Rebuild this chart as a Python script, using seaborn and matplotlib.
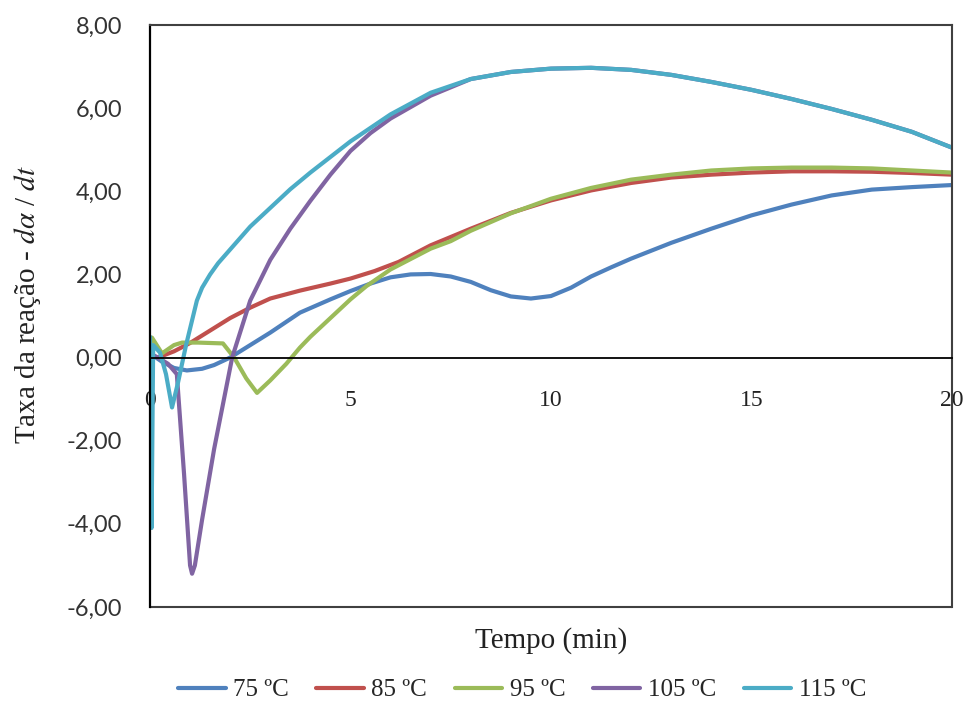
import pandas as pd
import matplotlib.pyplot as plt
import seaborn as sns
from matplotlib.ticker import FuncFormatter

# tempo (min) e taxa da reação
t75 = [0, 0.3, 0.6, 0.92, 1.3, 1.6, 2.0, 2.5, 3.0, 3.74, 4.5, 5.0, 5.5, 6.0, 6.5, 7.0, 7.5, 8.0, 8.5, 9.0, 9.5, 10.0, 10.5, 11, 11.5, 12, 13, 14, 15, 16, 17, 18, 19, 20]
v75 = [0.1, -0.1, -0.25, -0.31, -0.27, -0.18, 0.0, 0.3, 0.6, 1.08, 1.4, 1.6, 1.78, 1.93, 2.0, 2.01, 1.95, 1.82, 1.62, 1.47, 1.42, 1.48, 1.68, 1.95, 2.17, 2.38, 2.76, 3.1, 3.42, 3.68, 3.9, 4.04, 4.1, 4.15]

t85 = [0.2, 0.6, 1.0, 1.5, 2.0, 2.5, 3.0, 3.74, 4.5, 5.0, 5.6, 6.2, 7, 8, 9, 10, 11, 12, 13, 14, 15, 16, 17, 18, 19, 20]
v85 = [0.0, 0.15, 0.35, 0.65, 0.95, 1.2, 1.42, 1.61, 1.78, 1.9, 2.08, 2.3, 2.7, 3.1, 3.48, 3.78, 4.02, 4.2, 4.33, 4.4, 4.45, 4.48, 4.48, 4.47, 4.44, 4.4]

t95 = [0, 0.05, 0.3, 0.6, 0.8, 1.2, 1.82, 2.1, 2.4, 2.67, 3.0, 3.4, 3.74, 4.0, 4.5, 5.0, 5.4, 6, 7, 7.5, 8, 9, 10, 11, 12, 13, 14, 15, 16, 17, 18, 19, 20]
v95 = [0.3, 0.48, 0.1, 0.3, 0.36, 0.36, 0.34, 0.0, -0.5, -0.85, -0.55, -0.15, 0.24, 0.5, 0.95, 1.4, 1.72, 2.12, 2.62, 2.8, 3.05, 3.47, 3.82, 4.08, 4.28, 4.4, 4.5, 4.55, 4.57, 4.57, 4.55, 4.5, 4.45]

t105 = [0, 0.2, 0.45, 0.67, 0.85, 1.0, 1.05, 1.12, 1.3, 1.6, 2.05, 2.5, 3, 3.5, 4, 4.5, 5, 5.5, 6, 7, 8, 9, 10, 11, 12, 13, 14, 15, 16, 17, 18, 19, 20]
v105 = [0.1, 0.0, -0.15, -0.4, -2.8, -5.0, -5.2, -5.0, -3.9, -2.2, 0.0, 1.37, 2.35, 3.1, 3.77, 4.4, 4.97, 5.4, 5.75, 6.3, 6.7, 6.87, 6.95, 6.97, 6.92, 6.8, 6.63, 6.44, 6.22, 5.98, 5.72, 5.43, 5.05]

t115 = [0, 0.04, 0.08, 0.25, 0.4, 0.55, 0.7, 0.9, 1.17, 1.3, 1.5, 1.7, 2, 2.5, 3, 3.5, 4, 5, 6, 7, 8, 9, 10, 11, 12, 13, 14, 15, 16, 17, 18, 19, 20]
v115 = [0.5, -4.1, 0.3, 0.12, -0.4, -1.2, -0.6, 0.3, 1.37, 1.68, 2.0, 2.27, 2.6, 3.15, 3.6, 4.05, 4.45, 5.2, 5.85, 6.37, 6.7, 6.87, 6.95, 6.97, 6.92, 6.8, 6.63, 6.44, 6.22, 5.98, 5.72, 5.43, 5.05]

series = ["75 ºC", "85 ºC", "95 ºC", "105 ºC", "115 ºC"]
cores = ["#4F81BD", "#C0504D", "#9BBB59", "#8064A2", "#4BACC6"]

frames = []
for nome, t, v in zip(series, [t75, t85, t95, t105, t115], [v75, v85, v95, v105, v115]):
    frames.append(pd.DataFrame({"tempo": t, "taxa": v, "serie": nome}))
df = pd.concat(frames, ignore_index=True)

sns.set_style("white")
plt.rcParams["font.family"] = ["Liberation Serif", "DejaVu Serif"]
plt.rcParams["mathtext.fontset"] = "stix"

fig, ax = plt.subplots(figsize=(9.7, 7.1), dpi=100)
fig.subplots_adjust(left=0.1546, right=0.9814, top=0.9648, bottom=0.1451)

sns.lineplot(data=df, x="tempo", y="taxa", hue="serie", palette=dict(zip(series, cores)),
             estimator=None, sort=False, linewidth=3.0, ax=ax)

ax.set_xlim(0, 20)
ax.set_ylim(-6, 8)
ax.set_xticks([0, 5, 10, 15, 20])
ax.set_yticks(range(-6, 9, 2))
ax.yaxis.set_major_formatter(FuncFormatter(lambda v, p: f"{v:.2f}".replace(".", ",")))

# eixo x cruzando em y = 0
ax.spines["bottom"].set_position(("data", 0))
ax.spines["bottom"].set_color("black")
ax.spines["bottom"].set_linewidth(1.3)
ax.spines["left"].set_color("black")
ax.spines["left"].set_linewidth(1.6)
for s in ["top", "right"]:
    ax.spines[s].set_color("#404040")
    ax.spines[s].set_linewidth(1.5)
ax.axhline(-6, color="#404040", lw=1.5, clip_on=False)

ax.tick_params(axis="x", direction="out", length=6, width=1.3, color="black", pad=17,
               labelsize=17, labelcolor="#222222")
ax.tick_params(axis="y", direction="out", length=6, width=1.3, color="black", pad=14,
               labelsize=17, labelcolor="#333333")
for lab in ax.get_yticklabels():
    lab.set_family(["Lato", "DejaVu Sans"])

ax.set_xlabel("Tempo (min)", fontsize=21, color="#222222")
ax.xaxis.set_label_coords(0.5, -0.035)
ax.set_ylabel(r"Taxa da reação - $d\alpha$ / $dt$", fontsize=21, color="#222222")
ax.yaxis.set_label_coords(-0.133, 0.52)

sns.move_legend(ax, "center", bbox_to_anchor=(0.464, -0.143), ncol=5, frameon=False,
                title=None, fontsize=18, handlelength=1.9, handletextpad=0.3,
                columnspacing=1.1)

fig.savefig("out.png", dpi=100)
